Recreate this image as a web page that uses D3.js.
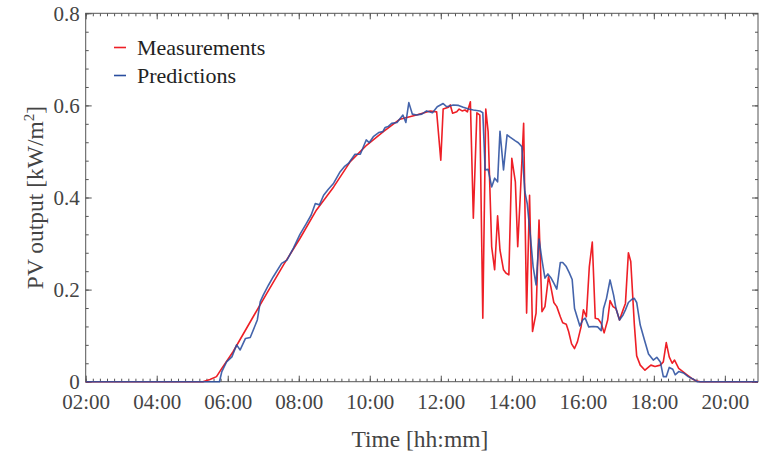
<!DOCTYPE html>
<html>
<head>
<meta charset="utf-8">
<script src="https://cdn.jsdelivr.net/npm/d3@7"></script>
<style>
  body { margin: 0; background: #fff; }
  svg { display: block; font-family: 'Liberation Serif', 'Times New Roman', serif; }
  .tick text { fill: #444; }
</style>
</head>
<body>
<svg id="chart" width="759" height="457"></svg>
<script>
// measured PV output, kW/m2
const measTimes = [
  '02:00', '05:18', '05:30', '05:41', '05:50', '06:09', '06:43', '07:06', '07:34', '08:02',
  '08:30', '08:59', '09:27', '09:55', '10:23', '10:51', '11:19', '11:42', '11:53', '12:00',
  '12:04', '12:13', '12:16', '12:20', '12:27', '12:31', '12:36', '12:41', '12:45', '12:50',
  '12:55', '13:01', '13:06', '13:11', '13:16', '13:20', '13:26', '13:31', '13:36', '13:40',
  '13:46', '13:50', '13:55', '14:00', '14:06', '14:10', '14:14', '14:20', '14:25', '14:30',
  '14:35', '14:41', '14:46', '14:51', '14:56', '15:02', '15:06', '15:11', '15:16', '15:22',
  '15:26', '15:32', '15:36', '15:41', '15:46', '15:51', '15:57', '16:01', '16:06', '16:11',
  '16:16', '16:21', '16:26', '16:31', '16:36', '16:42', '16:46', '16:51', '16:56', '17:02',
  '17:08', '17:12', '17:17', '17:21', '17:27', '17:31', '17:37', '17:45', '17:55', '18:02',
  '18:11', '18:16', '18:21', '18:26', '18:31', '18:35', '18:42', '18:49', '18:56', '19:04',
  '19:11', '19:18', '20:56'
];
const measValues = [
  0, 0, 0.005, 0.011, 0.029, 0.065, 0.141, 0.192, 0.253, 0.311,
  0.373, 0.423, 0.478, 0.514, 0.543, 0.570, 0.579, 0.588, 0.586, 0.481,
  0.592, 0.596, 0.601, 0.583, 0.586, 0.592, 0.588, 0.590, 0.586, 0.608,
  0.355, 0.584, 0.579, 0.138, 0.592, 0.543, 0.293, 0.243, 0.360, 0.286,
  0.243, 0.236, 0.232, 0.485, 0.434, 0.293, 0.395, 0.561, 0.149, 0.405,
  0.109, 0.149, 0.351, 0.152, 0.163, 0.228, 0.206, 0.172, 0.163, 0.141,
  0.128, 0.125, 0.109, 0.082, 0.072, 0.087, 0.119, 0.156, 0.141, 0.250,
  0.303, 0.138, 0.136, 0.127, 0.106, 0.134, 0.176, 0.163, 0.159, 0.134,
  0.156, 0.170, 0.280, 0.261, 0.125, 0.056, 0.036, 0.025, 0.036, 0.033,
  0.036, 0.043, 0.085, 0.054, 0.040, 0.047, 0.029, 0.022, 0.015, 0.007,
  0.002, 0, 0
];

// predicted PV output, kW/m2
const predTimes = [
  '02:00', '05:46', '05:50', '05:58', '06:07', '06:15', '06:21', '06:30', '06:38', '06:50',
  '06:55', '07:00', '07:09', '07:17', '07:31', '07:40', '07:51', '08:02', '08:13', '08:21',
  '08:28', '08:35', '08:42', '08:50', '08:59', '09:10', '09:17', '09:24', '09:35', '09:44',
  '09:54', '09:59', '10:06', '10:15', '10:22', '10:26', '10:31', '10:37', '10:46', '10:56',
  '11:01', '11:06', '11:12', '11:19', '11:28', '11:36', '11:46', '11:54', '12:04', '12:10',
  '12:21', '12:30', '12:38', '12:47', '12:55', '13:06', '13:11', '13:15', '13:20', '13:26',
  '13:31', '13:36', '13:40', '13:46', '13:52', '13:57', '14:06', '14:11', '14:17', '14:22',
  '14:26', '14:31', '14:36', '14:41', '14:46', '14:51', '14:56', '15:01', '15:06', '15:11',
  '15:16', '15:22', '15:26', '15:32', '15:37', '15:42', '15:46', '15:51', '15:55', '16:00',
  '16:04', '16:10', '16:18', '16:25', '16:31', '16:35', '16:40', '16:46', '16:52', '16:56',
  '17:02', '17:08', '17:12', '17:17', '17:23', '17:27', '17:31', '17:37', '17:44', '17:51',
  '17:59', '18:05', '18:11', '18:16', '18:21', '18:26', '18:32', '18:36', '18:42', '18:50',
  '18:58', '19:06', '19:13', '20:56'
];
const predValues = [
  0, 0, 0.022, 0.043, 0.054, 0.080, 0.069, 0.094, 0.096, 0.134,
  0.174, 0.188, 0.210, 0.228, 0.257, 0.264, 0.290, 0.320, 0.344, 0.362,
  0.387, 0.384, 0.405, 0.418, 0.431, 0.456, 0.467, 0.474, 0.494, 0.494,
  0.525, 0.519, 0.532, 0.541, 0.543, 0.552, 0.554, 0.561, 0.563, 0.579,
  0.563, 0.606, 0.581, 0.579, 0.581, 0.588, 0.584, 0.597, 0.604, 0.597,
  0.601, 0.600, 0.596, 0.592, 0.590, 0.588, 0.584, 0.460, 0.461, 0.423,
  0.442, 0.434, 0.544, 0.460, 0.536, 0.531, 0.523, 0.519, 0.510, 0.413,
  0.387, 0.322, 0.250, 0.210, 0.310, 0.264, 0.225, 0.234, 0.226, 0.214,
  0.201, 0.259, 0.259, 0.250, 0.237, 0.222, 0.159, 0.138, 0.121, 0.134,
  0.138, 0.119, 0.120, 0.119, 0.111, 0.159, 0.181, 0.221, 0.188, 0.159,
  0.134, 0.145, 0.156, 0.172, 0.179, 0.181, 0.172, 0.123, 0.091, 0.060,
  0.047, 0.053, 0.043, 0.011, 0.011, 0.031, 0.027, 0.015, 0.022, 0.019,
  0.011, 0.006, 0, 0
];

const xDomain = ['02:00', '20:56'];
const xTickLabels = ['02:00', '04:00', '06:00', '08:00', '10:00', '12:00', '14:00', '16:00', '18:00', '20:00'];
const yTicks = [0, 0.2, 0.4, 0.6, 0.8];
const yTickLabels = ['0', '0.2', '0.4', '0.6', '0.8'];
const seriesNames = ['Measurements', 'Predictions'];
const seriesColors = ['#ee1f26', '#2a4e9f'];

const margin = { top: 13.3, right: 1, bottom: 75.3, left: 85.7 };
const width = 759;
const height = 457;
const graphWidth = width - margin.left - margin.right;
const graphHeight = height - margin.top - margin.bottom;

const parse = d3.timeParse('%H:%M');

const svg = d3.select('#chart')
  .append('g')
  .attr('transform', `translate(${margin.left},${margin.top})`);

const x = d3.scaleTime()
  .domain(xDomain.map(parse))
  .range([0, graphWidth]);

const y = d3.scaleLinear()
  .domain([0, 0.8])
  .range([graphHeight, 0]);

const majorX = xTickLabels.map(parse);
const minorX = d3.timeMinute.every(12).range(x.domain()[0], x.domain()[1]);
const minorY = d3.range(0, 0.8001, 0.04);

// minor ticks, all four sides, pointing inward
const minor = (axis, tr) => svg.append('g')
  .attr('transform', tr)
  .call(axis.tickSizeInner(-3).tickSizeOuter(0).tickFormat(''))
  .call(g => g.select('.domain').remove())
  .call(g => g.selectAll('line').attr('stroke', '#555'));

minor(d3.axisBottom(x).tickValues(minorX), `translate(0,${graphHeight})`);
minor(d3.axisTop(x).tickValues(minorX), 'translate(0,0)');
minor(d3.axisLeft(y).tickValues(minorY), 'translate(0,0)');
minor(d3.axisRight(y).tickValues(minorY), `translate(${graphWidth},0)`);

// major ticks
const major = (axis, tr, labels) => svg.append('g')
  .attr('transform', tr)
  .call(axis.tickSizeInner(-6).tickSizeOuter(0))
  .call(g => g.select('.domain').remove())
  .call(g => g.selectAll('line').attr('stroke', '#555'))
  .call(g => { if (!labels) g.selectAll('text').remove(); });

major(d3.axisBottom(x).tickValues(majorX).tickPadding(12)
  .tickFormat((d, i) => xTickLabels[i]), `translate(0,${graphHeight})`, true)
  .attr('font-size', 21).attr('font-family', null);
major(d3.axisTop(x).tickValues(majorX), 'translate(0,0)', false);
major(d3.axisLeft(y).tickValues(yTicks).tickPadding(6)
  .tickFormat((d, i) => yTickLabels[i]), 'translate(0,0)', true)
  .attr('font-size', 21).attr('font-family', null);
major(d3.axisRight(y).tickValues(yTicks), `translate(${graphWidth},0)`, false);

// frame
svg.append('rect')
  .attr('width', graphWidth)
  .attr('height', graphHeight)
  .attr('fill', 'none')
  .attr('stroke', '#555')
  .attr('stroke-width', 1);

// lines
const line = d3.line()
  .x(d => x(d[0]))
  .y(d => y(d[1]));

const meas = measTimes.map((t, i) => [parse(t), measValues[i]]);
const pred = predTimes.map((t, i) => [parse(t), predValues[i]]);

svg.append('g')
  .selectAll('path')
  .data([meas, pred])
  .join('path')
  .attr('fill', 'none')
  .attr('stroke', (d, i) => seriesColors[i])
  .attr('stroke-opacity', (d, i) => i === 1 ? 0.88 : 1)
  .attr('stroke-width', 1.6)
  .attr('stroke-linejoin', 'round')
  .attr('d', line);

// legend
const legend = svg.append('g')
  .attr('transform', `translate(${114 - margin.left},${47.5 - margin.top})`);

seriesNames.forEach((name, i) => {
  const row = legend.append('g').attr('transform', `translate(0,${i * 28})`);
  row.append('line')
    .attr('x1', 0).attr('x2', 12)
    .attr('stroke', seriesColors[i])
    .attr('stroke-width', 1.6);
  row.append('text')
    .attr('x', 23)
    .attr('y', 7)
    .attr('font-size', 22)
    .attr('fill', '#222')
    .text(name);
});

// axis titles
svg.append('text')
  .attr('x', graphWidth / 2 - 2)
  .attr('y', graphHeight + 65)
  .attr('text-anchor', 'middle')
  .attr('font-size', 23.5)
  .attr('fill', '#444')
  .text('Time [hh:mm]');

const yTitle = svg.append('text')
  .attr('transform', `translate(${43 - margin.left},${graphHeight / 2}) rotate(-90)`)
  .attr('text-anchor', 'middle')
  .attr('font-size', 23.5)
  .attr('fill', '#444');
yTitle.append('tspan').text('PV output [kW/m');
yTitle.append('tspan').attr('font-size', 15).attr('dy', -9).text('2');
yTitle.append('tspan').attr('dy', 9).text(']');
</script>
</body>
</html>
